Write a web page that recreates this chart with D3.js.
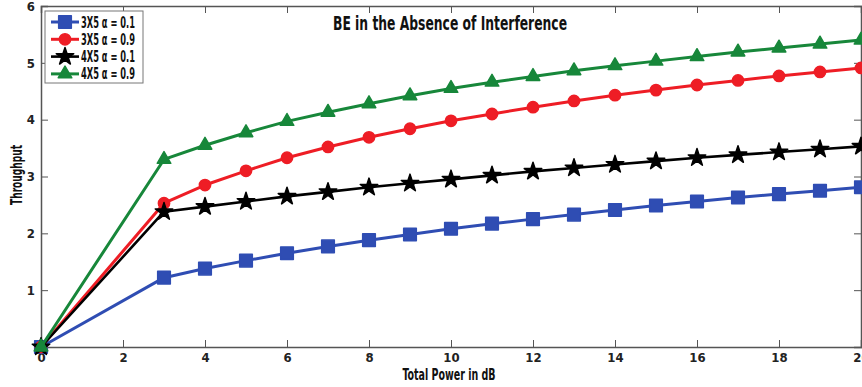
<!DOCTYPE html>
<html>
<head>
<meta charset="utf-8">
<script src="https://cdn.jsdelivr.net/npm/d3@7"></script>
<style>
  body { margin: 0; background: #fff; }
  text { font-family: "DejaVu Sans Condensed", "DejaVu Sans", sans-serif; font-weight: bold; font-stretch: condensed; }
</style>
</head>
<body>
<div id="chart"></div>
<script>
// total power in dB
var power = [0, 3, 4, 5, 6, 7, 8, 9, 10, 11, 12, 13, 14, 15, 16, 17, 18, 19, 20]

var blue3x5 = [0, 1.22, 1.38, 1.52, 1.65, 1.77, 1.88, 1.98, 2.08, 2.17, 2.25, 2.33, 2.41, 2.49, 2.56, 2.63, 2.69, 2.75, 2.81]
var red3x5 = [0, 2.53, 2.85, 3.10, 3.33, 3.52, 3.69, 3.84, 3.98, 4.10, 4.22, 4.33, 4.43, 4.52, 4.61, 4.69, 4.77, 4.84, 4.91]
var black4x5 = [0, 2.38, 2.47, 2.56, 2.65, 2.73, 2.81, 2.88, 2.95, 3.02, 3.09, 3.15, 3.21, 3.27, 3.33, 3.38, 3.43, 3.48, 3.53]
var green4x5 = [0, 3.30, 3.55, 3.77, 3.97, 4.13, 4.28, 4.42, 4.55, 4.66, 4.76, 4.86, 4.95, 5.03, 5.11, 5.19, 5.26, 5.33, 5.40]

var seriesNames = ["3X5 \u03b1 = 0.1", "3X5 \u03b1 = 0.9", "4X5 \u03b1 = 0.1", "4X5 \u03b1 = 0.9"]
var xTicks = [0, 2, 4, 6, 8, 10, 12, 14, 16, 18, 20]
var yTicks = [1, 2, 3, 4, 5, 6]

var series = [
  { name: seriesNames[0], values: blue3x5, color: "#2f4db3", symbol: d3.symbolSquare, size: 160, width: 3 },
  { name: seriesNames[1], values: red3x5, color: "#ee1d25", symbol: d3.symbolCircle, size: 100, width: 3 },
  { name: seriesNames[2], values: black4x5, color: "#000000", symbol: d3.symbolStar, size: 95, width: 2.6 },
  { name: seriesNames[3], values: green4x5, color: "#17873a", symbol: d3.symbolTriangle, size: 80, width: 3 }
]

var W = 862, H = 387
var mLeft = 41, mRight = 861, mTop = 6, mBottom = 347

var svg = d3.select("#chart").append("svg")
    .attr("width", W)
    .attr("height", H)

var x = d3.scaleLinear().domain([0, 20]).range([mLeft, mRight])
var y = d3.scaleLinear().domain([0, 6]).range([mBottom, mTop])

var axisColor = "#555"

// axes, ticks pointing inward
var gx = svg.append("g")
    .attr("transform", "translate(0," + mBottom + ")")
    .call(d3.axisBottom(x).tickValues(xTicks).tickSize(-7).tickPadding(6).tickFormat(d3.format("d")))
var gxTop = svg.append("g")
    .attr("transform", "translate(0," + mTop + ")")
    .call(d3.axisTop(x).tickValues(xTicks).tickSize(-7).tickFormat(""))
var gy = svg.append("g")
    .attr("transform", "translate(" + mLeft + ",0)")
    .call(d3.axisLeft(y).tickValues(yTicks).tickSize(-7).tickPadding(6).tickFormat(d3.format("d")))
var gyRight = svg.append("g")
    .attr("transform", "translate(" + mRight + ",0)")
    .call(d3.axisRight(y).tickValues(yTicks).tickSize(-7).tickFormat(""))

;[gx, gxTop, gy, gyRight].forEach(g => {
  g.attr("font-family", null)
  g.select(".domain").attr("stroke", axisColor).attr("stroke-width", 1.5)
  g.selectAll(".tick line").attr("stroke", axisColor).attr("stroke-width", 1)
  g.selectAll("text")
    .attr("fill", "#222")
    .style("font-size", "13px")
})

// lines and markers
var line = d3.line()
    .x((d, i) => x(power[i]))
    .y(d => y(d))

series.forEach(s => {
  svg.append("path")
      .datum(s.values)
      .attr("d", line)
      .attr("fill", "none")
      .attr("stroke", s.color)
      .attr("stroke-width", s.width)
      .attr("stroke-linejoin", "round")

  svg.selectAll(null)
      .data(s.values)
      .enter().append("path")
      .attr("d", d3.symbol().type(s.symbol).size(s.size))
      .attr("transform", (d, i) => "translate(" + x(power[i]) + "," + y(d) + ")")
      .attr("fill", s.color)
      .attr("stroke", s.color)
      .attr("stroke-width", 1.5)
      .attr("stroke-linejoin", "round")
})

// title
svg.append("text")
    .attr("x", 450)
    .attr("y", 30)
    .attr("text-anchor", "middle")
    .attr("textLength", 234)
    .attr("lengthAdjust", "spacingAndGlyphs")
    .style("font-size", "20px")
    .attr("fill", "#111")
    .text("BE in the Absence of Interference")

// axis labels
svg.append("text")
    .attr("x", 449)
    .attr("y", 380)
    .attr("text-anchor", "middle")
    .attr("textLength", 93)
    .attr("lengthAdjust", "spacingAndGlyphs")
    .style("font-size", "16px")
    .attr("fill", "#111")
    .text("Total Power in dB")

svg.append("text")
    .attr("transform", "translate(22,175) rotate(-90)")
    .attr("text-anchor", "middle")
    .attr("textLength", 60)
    .attr("lengthAdjust", "spacingAndGlyphs")
    .style("font-size", "16px")
    .attr("fill", "#111")
    .text("Throughput")

// legend
var legend = svg.append("g")
legend.append("rect")
    .attr("x", 45)
    .attr("y", 11)
    .attr("width", 98)
    .attr("height", 72)
    .attr("fill", "#fff")
    .attr("stroke", "#777")
    .attr("stroke-width", 1)

series.forEach((s, i) => {
  var ly = 22 + i * 17.3
  legend.append("line")
      .attr("x1", 51).attr("x2", 79)
      .attr("y1", ly).attr("y2", ly)
      .attr("stroke", s.color)
      .attr("stroke-width", s.width)
  legend.append("path")
      .attr("d", d3.symbol().type(s.symbol).size(s.size))
      .attr("transform", "translate(65," + ly + ")")
      .attr("fill", s.color)
      .attr("stroke", s.color)
      .attr("stroke-width", 1.5)
      .attr("stroke-linejoin", "round")
  legend.append("text")
      .attr("x", 81)
      .attr("y", ly + 5.5)
      .attr("textLength", 54)
      .attr("lengthAdjust", "spacingAndGlyphs")
      .style("font-size", "15px")
      .attr("fill", "#111")
      .text(s.name)
})
</script>
</body>
</html>
